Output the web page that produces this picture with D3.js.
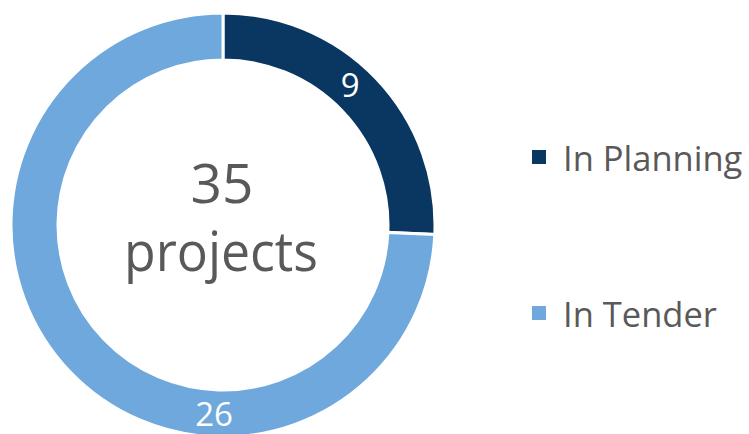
<!DOCTYPE html>
<html><head><meta charset="utf-8">
<script src="https://cdn.jsdelivr.net/npm/d3@7"></script>
<style>body{margin:0;background:#fff;}svg{display:block;}</style>
</head><body>
<svg id="c" width="749" height="434"></svg>
<script>
const categories = ["In Planning", "In Tender"];
const values = [9, 26];
const colors = ["#0A3762", "#6FA8DC"];
const centerLabel = ["35", "projects"];

const svg = d3.select("#c");
const cx = 223, cy = 225, rOuter = 212, rInner = 165;
const font = "'Open Sans', 'Noto Sans', sans-serif";

const pie = d3.pie().sort(null).value(d => d)(values);
const arc = d3.arc().innerRadius(rInner).outerRadius(rOuter);
const g = svg.append("g").attr("transform", `translate(${cx},${cy})`);
g.selectAll("path").data(pie).join("path")
  .attr("d", arc)
  .attr("fill", (d, i) => colors[i])
  .attr("stroke", "#fff").attr("stroke-width", 3);

// data labels
const labelAngles = [d => (d.startAngle + d.endAngle) / 2 - 0.07, d => Math.PI * 1.015];
const rLab = 189;
g.selectAll("text.lab").data(pie).join("text").attr("class", "lab")
  .attr("x", (d, i) => rLab * Math.sin(labelAngles[i](d)))
  .attr("y", (d, i) => -rLab * Math.cos(labelAngles[i](d)))
  .attr("dy", "0.36em")
  .attr("text-anchor", "middle")
  .attr("fill", "#fff").attr("font-family", font).attr("font-size", 33)
  .text(d => d.data);

// center text
svg.append("text").attr("x", cx - 1).attr("y", 203).attr("text-anchor", "middle")
  .attr("fill", "#595959").attr("font-family", font).attr("font-size", 55).text(centerLabel[0]);
svg.append("text").attr("x", cx - 2).attr("y", 271).attr("text-anchor", "middle")
  .attr("fill", "#595959").attr("font-family", font).attr("font-size", 55)
  .attr("textLength", 194).attr("lengthAdjust", "spacingAndGlyphs").text(centerLabel[1]);

// legend
const legY = [171, 327];
const leg = svg.selectAll("g.leg").data(categories).join("g").attr("class", "leg")
  .attr("transform", (d, i) => `translate(532,${legY[i]})`);
leg.append("rect").attr("x", 0).attr("y", -21).attr("width", 14).attr("height", 14)
  .attr("fill", (d, i) => colors[i]);
leg.append("text").attr("x", 31).attr("y", 0)
  .attr("fill", "#595959").attr("font-family", font).attr("font-size", 34.5).text(d => d);
</script>
</body></html>
